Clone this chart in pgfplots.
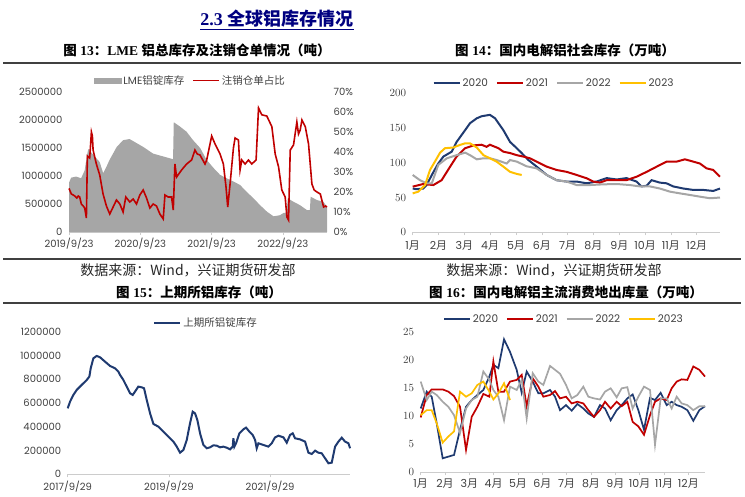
\documentclass[border=0pt]{standalone}
\usepackage{pgfplots}
\pgfplotsset{compat=1.18}
\usepackage{fontspec}
\setmainfont{Poppins}
\newfontfamily\cjk{Noto Sans CJK SC}
\newfontfamily\serifb{Liberation Serif}
\newcommand{\zh}[1]{{\cjk #1}}
\newcommand{\zb}[1]{{\cjk\bfseries #1}}
\newcommand{\tb}[1]{{\serifb\bfseries #1}}
\definecolor{navy}{HTML}{1F3A70}
\definecolor{cred}{HTML}{C00000}
\definecolor{cgrey}{HTML}{A6A6A6}
\definecolor{cyel}{HTML}{FFC000}
\definecolor{ticktxt}{HTML}{404040}
\definecolor{titleblue}{HTML}{000080}
\pgfplotsset{
  base/.style={scale only axis, no marks, clip=false,
    axis x line*=bottom, axis y line*=left,
    y axis line style={draw=none}, x axis line style={draw=gray!40, line width=0.6pt},
    ytick style={draw=none}, xtick style={draw=gray!40, line width=0.6pt},
    tick align=outside, major tick length=3pt,
    scaled ticks=false,
    tick label style={font=\fontsize{10}{12}\selectfont, text=ticktxt},
    legend style={draw=none, fill=none, font=\fontsize{10.5}{12}\selectfont, text=ticktxt,
      legend columns=-1, anchor=center, /tikz/every even column/.append style={column sep=6pt}},
    legend image code/.code={\draw[##1] (0pt,0pt) -- (26pt,0pt);},
  }
}
\begin{document}
\begin{tikzpicture}
\useasboundingbox (0pt,0pt) rectangle (745pt,-496pt);
% titles and rules
\node[text=titleblue, font=\fontsize{18}{21}\selectfont] at (277pt,-20pt) {\underline{\tb{2.3} \zb{全球铝库存情况}}};
\node[font=\fontsize{13.5}{16}\selectfont] at (197pt,-50pt) {\zb{图} \tb{13}\zb{：}\tb{LME} \zb{铝总库存及注销仓单情况（吨）}};
\node[font=\fontsize{13.5}{16}\selectfont] at (565pt,-50pt) {\zb{图} \tb{14}\zb{：国内电解铝社会库存（万吨）}};
\draw[black!75, line width=1.4pt] (3pt,-63pt) -- (741pt,-63pt);
\draw[black!75, line width=1.4pt] (3pt,-259pt) -- (741pt,-259pt);
\node[font=\fontsize{14}{16}\selectfont, text=black!85] at (188pt,-270pt) {\zh{数据来源：Wind，兴证期货研发部}};
\node[font=\fontsize{14}{16}\selectfont, text=black!85] at (554pt,-270pt) {\zh{数据来源：Wind，兴证期货研发部}};
\node[font=\fontsize{13.5}{16}\selectfont] at (199pt,-292pt) {\zb{图} \tb{15}\zb{：上期所铝库存（吨）}};
\node[font=\fontsize{13.5}{16}\selectfont] at (566pt,-292pt) {\zb{图} \tb{16}\zb{：国内电解铝主流消费地出库量（万吨）}};
\draw[black!75, line width=1.4pt] (3pt,-303pt) -- (741pt,-303pt);

% ---------- Chart 13 ----------
\begin{axis}[base, at={(69pt,-232pt)}, anchor=south west, width=258pt, height=140pt,
  xmin=0, xmax=3.62, ymin=0, ymax=2500000,
  xtick={0,1,2,3}, xticklabels={2019/9/23,2020/9/23,2021/9/23,2022/9/23},
  ytick={0,500000,1000000,1500000,2000000,2500000},
  yticklabels={0,500000,1000000,1500000,2000000,2500000}]
\addplot[fill=cgrey, draw=none] coordinates {
(0,880000)(0.03,970000)(0.10,990000)(0.17,960000)(0.22,1100000)(0.25,1350000)(0.27,1480000)(0.34,1380000)(0.43,1250000)(0.48,1050000)(0.52,1150000)(0.57,1290000)(0.67,1520000)(0.76,1640000)(0.85,1660000)(1.04,1520000)(1.18,1400000)(1.32,1350000)(1.46,1300000)(1.47,1960000)(1.56,1880000)(1.65,1790000)(1.74,1640000)(1.84,1500000)(1.93,1290000)(2.03,1140000)(2.12,1020000)(2.21,960000)(2.31,900000)(2.40,840000)(2.49,720000)(2.59,600000)(2.68,480000)(2.78,360000)(2.87,280000)(2.96,300000)(3.01,340000)(3.05,340000)(3.07,600000)(3.15,540000)(3.24,480000)(3.34,390000)(3.38,390000)(3.39,630000)(3.48,570000)(3.57,540000)(3.62,450000)
} \closedcycle;
\end{axis}
\begin{axis}[base, at={(69pt,-232pt)}, anchor=south west, width=258pt, height=140pt,
  xmin=0, xmax=3.62, ymin=0, ymax=70, axis x line=none, axis y line*=right,
  ytick={0,10,20,30,40,50,60,70},
  yticklabels={0\%,10\%,20\%,30\%,40\%,50\%,60\%,70\%},
  legend style={at={(axis description cs:0.471,1.081)}}]
\addlegendimage{legend image code/.code={\fill[cgrey] (0pt,-2.5pt) rectangle (27pt,2.5pt);}}
\addlegendentry{LME\zh{铝锭库存}}
\addplot[cred, line width=1.6pt] coordinates {
(0,21.8)(0.033,19)(0.06,18.5)(0.08,18)(0.11,17)(0.13,18)(0.15,17.5)(0.173,14)(0.2,13)(0.22,12)(0.244,7)(0.258,38)(0.29,37)(0.3,42)(0.314,50)(0.328,48)(0.338,41)(0.384,34)(0.431,28.5)(0.478,19)(0.525,13)(0.572,9)(0.619,12.5)(0.666,16)(0.713,14)(0.759,10)(0.797,17.5)(0.853,15)(0.9,16.5)(0.947,14)(0.994,18.5)(1.041,21)(1.088,17)(1.135,12)(1.181,14)(1.228,13)(1.275,9)(1.322,6.5)(1.346,18.5)(1.392,17.5)(1.439,17.5)(1.463,11)(1.486,34)(1.51,27.5)(1.58,31)(1.65,34)(1.72,36)(1.767,41)(1.8,39)(1.838,38.5)(1.908,34)(1.932,36)(2.002,48)(2.049,44)(2.119,39)(2.166,34)(2.203,22.5)(2.227,12.5)(2.26,24)(2.307,42)(2.33,47)(2.377,46)(2.4,31)(2.424,36)(2.471,34)(2.518,36)(2.564,34)(2.625,36)(2.659,62)(2.705,58.6)(2.775,58)(2.846,52.7)(2.893,39)(2.94,32.6)(2.986,21)(3.033,17.5)(3.057,7.5)(3.08,6)(3.104,41)(3.15,43.5)(3.197,55)(3.22,49)(3.244,51)(3.268,56)(3.315,52.7)(3.361,44)(3.408,24)(3.44,21)(3.479,20)(3.526,19)(3.572,12.5)(3.6,13)(3.619,12.5)
};
\addlegendentry{\zh{注销仓单占比}}
\end{axis}

% ---------- Chart 14 ----------
\begin{axis}[base, at={(412.7pt,-232.3pt)}, anchor=south west, width=307.3pt, height=139pt,
  xmin=0, xmax=11.9, ymin=0, ymax=200, ytick={0,50,100,150,200},
  tick label style={font=\fontsize{11}{13}\selectfont},
  xtick={0,...,11}, xticklabels={1\zh{月},2\zh{月},3\zh{月},4\zh{月},5\zh{月},6\zh{月},7\zh{月},8\zh{月},9\zh{月},10\zh{月},11\zh{月},12\zh{月}},
  xticklabel style={yshift=-2pt},
  legend style={at={(axis description cs:0.46,1.072)}}]
\addplot[navy, line width=2pt] coordinates {
(0,63)(0.15,62)(0.41,63)(0.54,68)(0.74,82.5)(0.99,99)(1.19,109)(1.51,116)(1.70,130)(2.03,147)(2.22,157)(2.48,164)(2.67,167)(2.99,169)(3.19,164)(3.51,147)(3.77,130)(4.03,121)(4.22,114)(4.48,104)(4.80,94.5)(5.19,82.5)(5.57,75)(5.96,73)(6.35,73)(6.74,70.5)(7.12,73)(7.51,78)(7.90,76)(8.28,78)(8.67,73)(8.86,66)(9.06,67)(9.25,75)(9.57,71.5)(9.83,70.5)(10.09,66)(10.48,63)(10.86,61)(11.25,61)(11.64,59.5)(11.90,63)
};
\addlegendentry{2020}
\addplot[cred, line width=2pt] coordinates {
(0,65.7)(0.41,69.5)(0.80,68)(1.12,75)(1.45,94.5)(1.70,109)(2.03,121)(2.35,125)(2.67,126)(2.86,123)(2.99,126)(3.32,121)(3.51,116)(3.77,114)(4.03,111)(4.28,109)(4.54,106.5)(4.80,101.7)(5.19,94.5)(5.57,89.7)(5.96,87)(6.35,82.5)(6.74,77.7)(6.99,73)(7.25,71.5)(7.51,75)(7.90,75)(8.28,75)(8.67,80)(9.06,87)(9.45,94.5)(9.83,101.7)(10.22,101.7)(10.54,105)(10.74,103)(11.12,99)(11.38,92)(11.64,89.7)(11.90,80)
};
\addlegendentry{2021}
\addplot[cgrey, line width=2pt] coordinates {
(0,82.5)(0.28,75)(0.54,70.5)(0.74,70.5)(0.99,97)(1.32,106.5)(1.70,111)(2.03,114.6)(2.22,111)(2.48,105)(2.74,106.5)(2.99,106.5)(3.25,104)(3.64,99)(3.77,104)(4.03,101.7)(4.41,95)(4.80,92)(5.19,82.5)(5.57,75)(5.96,73)(6.35,68)(6.86,68)(7.38,69)(7.90,69.5)(8.41,68)(8.80,66)(9.19,66)(9.57,63)(9.96,58.5)(10.35,56)(10.74,53.7)(11.12,51.3)(11.51,49)(11.90,50)
};
\addlegendentry{2022}
\addplot[cyel, line width=2pt] coordinates {
(0,56)(0.22,58.5)(0.48,68)(0.67,89.7)(0.86,101.7)(1.06,114.6)(1.25,121)(1.57,122)(1.83,125.7)(2.03,128)(2.22,128)(2.48,122)(2.74,111)(2.99,106.5)(3.25,101.7)(3.51,94.5)(3.77,87)(4.03,84)(4.22,82.5)
};
\addlegendentry{2023}
\end{axis}

% ---------- Chart 15 ----------
\begin{axis}[base, at={(67.7pt,-474.3pt)}, anchor=south west, width=282.3pt, height=142.6pt,
  xmin=0, xmax=5.58, ymin=0, ymax=1200000,
  ytick={0,200000,400000,600000,800000,1000000,1200000},
  yticklabels={0,200000,400000,600000,800000,1000000,1200000},
  xtick={0,2,4}, xticklabels={2017/9/29,2019/9/29,2021/9/29},
  legend style={at={(axis description cs:0.49,1.063)}}]
\addplot[navy, line width=2pt] coordinates {
(0,555000)(0.046,611000)(0.112,668000)(0.178,710000)(0.277,752000)(0.376,794000)(0.428,822000)(0.455,892000)(0.507,976000)(0.573,996000)(0.639,985000)(0.738,948000)(0.837,912000)(0.936,892000)(1.002,864000)(1.035,836000)(1.1,794000)(1.166,738000)(1.232,682000)(1.285,668000)(1.331,696000)(1.397,738000)(1.463,732000)(1.509,724000)(1.562,626000)(1.628,513000)(1.694,424000)(1.792,401000)(1.891,359000)(1.99,317000)(2.089,275000)(2.155,233000)(2.221,182000)(2.287,205000)(2.353,289000)(2.418,429000)(2.471,527000)(2.517,513000)(2.563,457000)(2.616,345000)(2.682,247000)(2.748,219000)(2.814,227000)(2.88,244000)(2.946,241000)(3.012,227000)(3.077,233000)(3.143,224000)(3.209,210000)(3.262,233000)(3.275,303000)(3.295,233000)(3.328,261000)(3.394,345000)(3.473,379000)(3.526,393000)(3.591,359000)(3.657,331000)(3.704,289000)(3.736,219000)(3.769,261000)(3.868,247000)(3.967,233000)(4.033,261000)(4.099,311000)(4.165,325000)(4.264,311000)(4.33,266000)(4.395,331000)(4.448,345000)(4.494,303000)(4.593,294000)(4.692,275000)(4.758,182000)(4.824,171000)(4.89,199000)(4.956,182000)(5.021,177000)(5.087,135000)(5.153,93000)(5.219,98000)(5.285,233000)(5.351,275000)(5.417,308000)(5.483,275000)(5.549,261000)(5.582,219000)
};
\addlegendentry{\zh{上期所铝锭库存}}
\end{axis}

% ---------- Chart 16 ----------
\begin{axis}[base, at={(420.7pt,-472.3pt)}, anchor=south west, width=284.3pt, height=140pt,
  xmin=0, xmax=11.685, ymin=0, ymax=25, ytick={0,5,10,15,20,25},
  tick label style={font=\fontsize{11}{13}\selectfont},
  xtick={0,...,11}, xticklabels={1\zh{月},2\zh{月},3\zh{月},4\zh{月},5\zh{月},6\zh{月},7\zh{月},8\zh{月},9\zh{月},10\zh{月},11\zh{月},12\zh{月}},
  legend style={at={(axis description cs:0.504,1.095)}}]
\addplot[navy, line width=1.7pt] coordinates {
(0,11.4)(0.247,14.4)(0.452,13.5)(0.658,8.75)(0.904,2.5)(1.137,2.8)(1.37,3.1)(1.616,7.6)(1.863,11.7)(2.096,12.9)(2.329,13.8)(2.575,14.7)(2.822,17.1)(2.986,19.2)(3.192,18.6)(3.425,23.75)(3.671,21.5)(3.945,18.3)(4.151,14.2)(4.356,18)(4.603,16.2)(4.836,14.1)(5.041,14.1)(5.315,14.7)(5.521,13.5)(5.726,11.1)(5.973,12)(6.205,11)(6.438,12.2)(6.685,11.4)(6.89,10.5)(7.123,9.9)(7.37,12)(7.575,11.4)(7.808,9.3)(8.055,11.1)(8.26,12)(8.493,13.2)(8.712,13.9)(8.945,11.1)(9.178,7.6)(9.425,13.3)(9.63,12.9)(9.863,14.2)(10.11,12)(10.315,12.6)(10.521,12)(10.726,11.7)(10.959,11.1)(11.205,9.2)(11.452,11.1)(11.685,11.8)
};
\addlegendentry{2020}
\addplot[cred, line width=1.7pt] coordinates {
(0,9.8)(0.247,13.8)(0.452,14.8)(0.658,14.8)(0.904,14.8)(1.137,14.4)(1.37,13.6)(1.616,11.7)(1.863,4)(2.096,9.9)(2.329,11.7)(2.575,14)(2.822,13.5)(2.986,19.8)(3.192,14.4)(3.425,14.4)(3.671,16.2)(3.945,16.5)(4.151,17.4)(4.356,11.8)(4.603,16.8)(4.836,15.3)(5.041,13.5)(5.315,13.8)(5.521,14.5)(5.726,13.2)(5.973,13.5)(6.205,12.3)(6.438,12.6)(6.685,12.3)(6.89,11.1)(7.123,9.9)(7.37,11.1)(7.575,12.6)(7.808,11.4)(8.055,12.6)(8.26,11.8)(8.493,12.6)(8.712,9)(8.945,8.2)(9.178,6.7)(9.425,10.2)(9.63,12.6)(9.863,13.2)(10.11,12.9)(10.315,15)(10.521,16.2)(10.726,16.6)(10.959,16.5)(11.205,18.9)(11.452,18.3)(11.685,17.1)
};
\addlegendentry{2021}
\addplot[cgrey, line width=1.7pt] coordinates {
(0,16.2)(0.247,12.9)(0.452,14.4)(0.658,13.8)(0.904,12.6)(1.137,11.7)(1.37,10.2)(1.616,7)(1.863,11.4)(2.096,12.9)(2.329,13.5)(2.575,18)(2.822,16.5)(2.986,14.7)(3.192,13.5)(3.425,9.3)(3.671,15.3)(3.945,14.7)(4.151,16.5)(4.356,9.6)(4.603,17.7)(4.836,16.2)(5.041,15.6)(5.315,19)(5.521,18.3)(5.726,17.6)(5.973,15.6)(6.205,13.2)(6.438,13.8)(6.685,15.3)(6.89,13.5)(7.123,13.2)(7.37,13)(7.575,14.4)(7.808,15)(8.055,13.4)(8.26,15)(8.493,15.2)(8.712,11.4)(8.945,13.5)(9.178,15.3)(9.425,14.7)(9.63,4.9)(9.863,13.2)(10.11,13.2)(10.315,11.4)(10.521,13.5)(10.726,12.3)(10.959,12)(11.205,11.1)(11.452,11.8)(11.685,11.8)
};
\addlegendentry{2022}
\addplot[cyel, line width=1.7pt] coordinates {
(0,10.2)(0.247,11.1)(0.452,11.1)(0.658,8.75)(0.904,5.3)(1.137,6.4)(1.37,7.3)(1.616,14.4)(1.863,13.5)(2.096,14.1)(2.329,15.6)(2.575,16.2)(2.822,14.4)(2.986,13)(3.192,14.1)(3.425,15.9)(3.671,12.9)
};
\addlegendentry{2023}
\end{axis}
\end{tikzpicture}
\end{document}
